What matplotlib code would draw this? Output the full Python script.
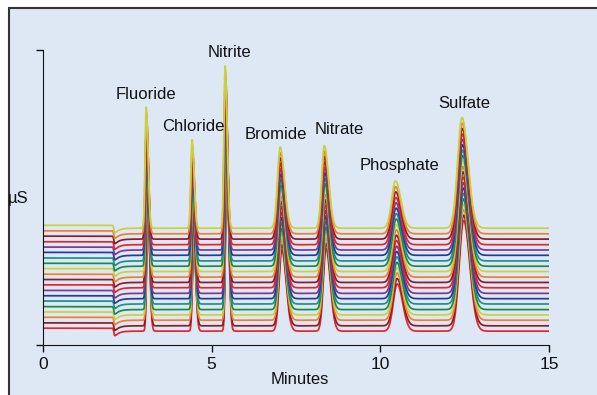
import numpy as np
import matplotlib
matplotlib.use("Agg")
import matplotlib.pyplot as plt
from matplotlib.patches import Rectangle

plt.rcParams['font.family'] = ['Liberation Sans Narrow', 'Liberation Sans', 'DejaVu Sans']

# peaks: name, retention time (min), height (µS units), left/right width (min)
ions = ['Fluoride', 'Chloride', 'Nitrite', 'Bromide', 'Nitrate', 'Phosphate', 'Sulfate']
retention = [3.06, 4.42, 5.40, 7.03, 8.34, 10.45, 12.42]
heights = [41.0, 30.0, 55.0, 27.5, 28.0, 16.0, 37.5]
sigma_left = [0.035, 0.038, 0.038, 0.08, 0.08, 0.115, 0.13]
sigma_right = [0.055, 0.06, 0.06, 0.125, 0.125, 0.16, 0.18]

# water dip
dip_time = 2.12
dip_depth = 2.0
pre_dip_level = 1.0

# 20 overlaid runs, baseline offsets from bottom to top
baselines = [4.7, 6.5, 8.4, 10.2, 12.0, 13.9, 15.7, 17.5, 19.4, 21.2,
             23.0, 24.9, 26.7, 28.5, 30.4, 32.2, 34.0, 35.9, 37.7, 39.6]
rt_drift = [0.05, 0.048, 0.045, 0.043, 0.04, 0.038, 0.035, 0.033, 0.03, 0.028,
            0.025, 0.023, 0.02, 0.018, 0.015, 0.013, 0.01, 0.008, 0.005, 0.0]
colors = ['#e3262b', '#8a1c2e', '#f07f2d', '#c9d143',
          '#1c8a47', '#1f8e8e', '#2b3a8c', '#7b3a8e']

label_x = [3.06, 4.45, 5.52, 6.91, 8.78, 10.56, 12.49]
label_y = [85.0, 73.9, 99.0, 71.5, 72.9, 60.7, 81.7]


def trace(t, shift):
    y = np.zeros_like(t)
    for rt, h, sl, sr in zip(retention, heights, sigma_left, sigma_right):
        r = rt + shift
        s = np.where(t < r, sl, sr)
        y += h * np.exp(-0.5 * ((t - r) / s) ** 2)
    # level before injection dip, sharp drop, quick recovery
    d = t - dip_time
    y += pre_dip_level / (1 + np.exp(d / 0.015))
    y -= dip_depth * np.where(d < 0, np.exp(-0.5 * (d / 0.02) ** 2), np.exp(-d / 0.12))
    return y


fig = plt.figure(figsize=(5.97, 3.95), dpi=100)
fig.patches.append(Rectangle((9 / 597, -0.01), 1.0, 1 - 8 / 395 + 0.01,
                             transform=fig.transFigure, facecolor='#dde8f4',
                             edgecolor='#333333', linewidth=1.5, zorder=-5))

ax = fig.add_axes([43 / 597, 1 - 345 / 395, 506 / 597, 295 / 395])
ax.set_facecolor('none')
t = np.linspace(0, 15, 4000)
for i, (b, sh) in enumerate(zip(baselines, rt_drift)):
    ax.plot(t, b + trace(t, sh), color=colors[i % len(colors)], lw=1.25)

for name, lx, ly in zip(ions, label_x, label_y):
    ax.text(lx, ly, name, ha='center', va='center', fontsize=12, color='#111111')

ax.set_xlim(0, 15)
ax.set_ylim(0, 100)
ax.set_xticks([0, 5, 10, 15])
ax.set_yticks([0, 100])
ax.set_yticklabels([])
ax.tick_params(direction='out', length=5, width=1, labelsize=12.5, colors='#111111')
ax.spines['top'].set_visible(False)
ax.spines['right'].set_visible(False)
ax.spines['left'].set_color('#111111')
ax.spines['bottom'].set_color('#111111')

fig.text(18 / 597, 1 - 198 / 395, 'µS', ha='center', va='center', fontsize=12, color='#111111')
fig.text(300 / 597, 1 - 380 / 395, 'Minutes', ha='center', va='center', fontsize=12, color='#111111')

fig.savefig('out.png', dpi=100)
